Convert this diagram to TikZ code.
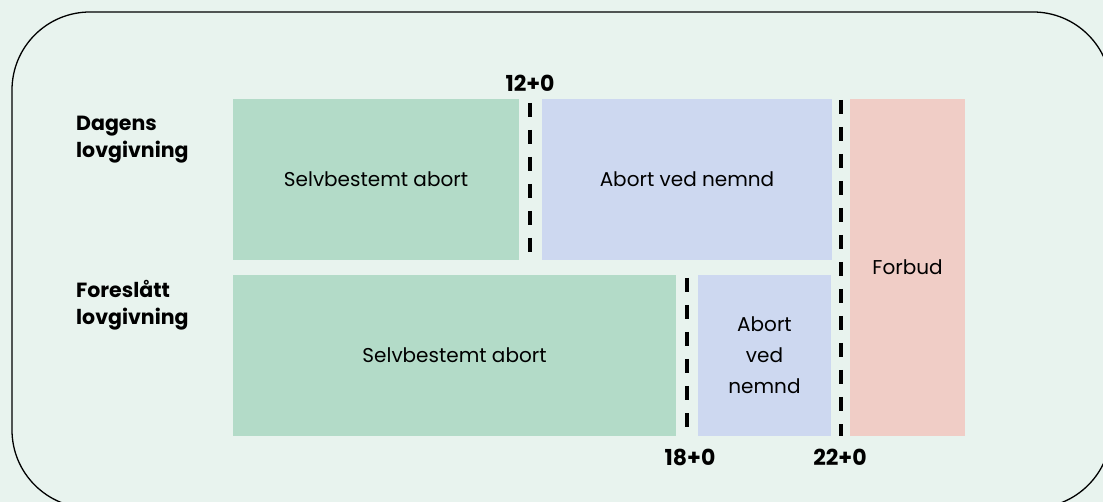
\documentclass[tikz,border=0pt]{standalone}
\usepackage{fontspec}
\setmainfont{Poppins}
\definecolor{bgc}{RGB}{232,243,238}
\definecolor{selfc}{RGB}{179,219,200}
\definecolor{boardc}{RGB}{205,216,240}
\definecolor{banc}{RGB}{240,205,198}
\begin{document}
\begin{tikzpicture}[x=1pt,y=-1pt,
  area/.style={inner sep=0pt, outer sep=0pt, anchor=north west, align=center,
    font=\fontsize{20}{31}\selectfont},
  rowlabel/.style={anchor=base west, inner sep=0pt, font=\fontsize{20.5}{24}\bfseries},
  weeklabel/.style={anchor=base, inner sep=0pt, font=\fontsize{22}{24}\bfseries},
  limit/.style={line width=4.5pt, dash pattern=on 14pt off 13pt}]
\fill[bgc] (0,0) rectangle (1103,502);
\useasboundingbox (0,0) rectangle (1103,502);
\begin{scope}
  \clip (0,0) rectangle (1103,502);
  \draw[line width=1.3pt, rounded corners=78pt] (12,12) rectangle (1111,508);
\end{scope}

% current law
\node[area, fill=selfc, minimum width=286pt, minimum height=161pt] (curself) at (233,99) {Selvbestemt abort};
\node[area, fill=boardc, minimum width=290pt, minimum height=161pt] (curboard) at (542,99) {Abort ved nemnd};
% ban, shared by both rows
\node[area, fill=banc, minimum width=115pt, minimum height=337pt] (ban) at (850,99) {Forbud};
% proposed law
\node[area, fill=selfc, minimum width=443pt, minimum height=161pt] (newself) at (233,275) {Selvbestemt abort};
\node[area, fill=boardc, minimum width=133pt, minimum height=161pt] (newboard) at (698,275) {Abort\\ved\\nemnd};

% row labels
\node[rowlabel] (l1a) at (76,131) {Dagens};
\node[rowlabel] (l1b) at (76,158) {lovgivning};
\node[rowlabel] (l2a) at (76,298) {Foreslått};
\node[rowlabel] (l2b) at (76,325) {lovgivning};

% week limits
\node[weeklabel] (w12) at (530,92) {12+0};
\node[weeklabel] (w18) at (690,465) {18+0};
\node[weeklabel] (w22) at (840,465) {22+0};

\coordinate (d12a) at (530,103);
\coordinate (d12b) at (530,260);
\coordinate (d18a) at (687,278);
\coordinate (d18b) at (687,436);
\coordinate (d22a) at (841,100);
\coordinate (d22b) at (841,436);
\draw[limit] (d12a) -- (d12b);
\draw[limit] (d18a) -- (d18b);
\draw[limit] (d22a) -- (d22b);
\end{tikzpicture}
\end{document}
